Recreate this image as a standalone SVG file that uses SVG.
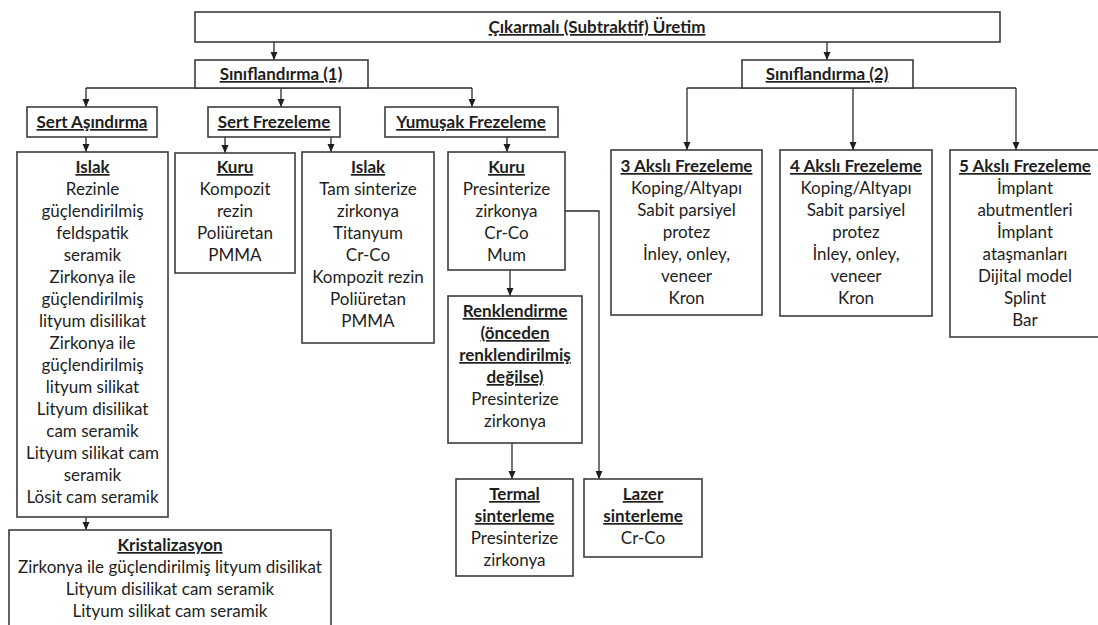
<svg xmlns="http://www.w3.org/2000/svg" width="1098" height="625" viewBox="0 0 1098 625">
  <style>
    .box { fill: #ffffff; stroke: #3c3c3c; stroke-width: 1.6; }
    .wire { fill: none; stroke: #2a2a2a; stroke-width: 1.3; }
    text { font-family: Lato, "Liberation Sans", sans-serif; font-size: 17px; fill: #1e1e1e; text-anchor: middle; }
    .h { font-weight: 700; text-decoration: underline; }
  </style>
  <defs>
    <marker id="arrow" viewBox="0 0 8 8" refX="8" refY="4" markerWidth="8" markerHeight="8" markerUnits="userSpaceOnUse" orient="auto">
      <path d="M0,0.5 L8,4 L0,7.5 Z" fill="#1e1e1e"/>
    </marker>
  </defs>
  <rect width="1098" height="625" fill="#ffffff"/>

  <!-- connectors -->
  <g id="connectors">
    <path class="wire" d="M274,42 V60" marker-end="url(#arrow)"/>
    <path class="wire" d="M827,42 V60" marker-end="url(#arrow)"/>
    <path class="wire" d="M86,88 H472"/>
    <path class="wire" d="M86,88 V107" marker-end="url(#arrow)"/>
    <path class="wire" d="M281,88 V107" marker-end="url(#arrow)"/>
    <path class="wire" d="M472,88 V107" marker-end="url(#arrow)"/>
    <path class="wire" d="M86,137 V152" marker-end="url(#arrow)"/>
    <path class="wire" d="M225,137 V153" marker-end="url(#arrow)"/>
    <path class="wire" d="M331,137 V152" marker-end="url(#arrow)"/>
    <path class="wire" d="M507,137 V152" marker-end="url(#arrow)"/>
    <path class="wire" d="M86,517 V530" marker-end="url(#arrow)"/>
    <path class="wire" d="M510,270 V296" marker-end="url(#arrow)"/>
    <path class="wire" d="M565,211 H599 V479" marker-end="url(#arrow)"/>
    <path class="wire" d="M512,443 V479" marker-end="url(#arrow)"/>
    <path class="wire" d="M687,88 H1016"/>
    <path class="wire" d="M687,88 V150" marker-end="url(#arrow)"/>
    <path class="wire" d="M853,88 V150" marker-end="url(#arrow)"/>
    <path class="wire" d="M1016,88 V150" marker-end="url(#arrow)"/>
  </g>

  <g id="uretim">
    <rect class="box" x="195" y="12" width="805" height="30"/>
    <text class="h" x="597" y="33">Çıkarmalı (Subtraktif) Üretim</text>
  </g>

  <g id="siniflandirma1">
    <rect class="box" x="195" y="60" width="173" height="28"/>
    <text class="h" x="281" y="80">Sınıflandırma (1)</text>
  </g>

  <g id="siniflandirma2">
    <rect class="box" x="742" y="60" width="171" height="28"/>
    <text class="h" x="827" y="80">Sınıflandırma (2)</text>
  </g>

  <g id="sert-asindirma">
    <rect class="box" x="27" y="107" width="130" height="30"/>
    <text class="h" x="92" y="128">Sert Aşındırma</text>
  </g>

  <g id="sert-frezeleme">
    <rect class="box" x="208" y="107" width="132" height="30"/>
    <text class="h" x="274" y="128">Sert Frezeleme</text>
  </g>

  <g id="yumusak-frezeleme">
    <rect class="box" x="385" y="107" width="173" height="30"/>
    <text class="h" x="471" y="128">Yumuşak Frezeleme</text>
  </g>

  <g id="islak-asindirma">
    <rect class="box" x="17" y="152" width="151" height="365"/>
    <text class="h" x="92.5" y="173">Islak</text>
    <text x="92.5" y="195">Rezinle</text>
    <text x="92.5" y="217">güçlendirilmiş</text>
    <text x="92.5" y="239">feldspatik</text>
    <text x="92.5" y="261">seramik</text>
    <text x="92.5" y="283">Zirkonya ile</text>
    <text x="92.5" y="305">güçlendirilmiş</text>
    <text x="92.5" y="327">lityum disilikat</text>
    <text x="92.5" y="349">Zirkonya ile</text>
    <text x="92.5" y="371">güçlendirilmiş</text>
    <text x="92.5" y="393">lityum silikat</text>
    <text x="92.5" y="415">Lityum disilikat</text>
    <text x="92.5" y="437">cam seramik</text>
    <text x="92.5" y="459">Lityum silikat cam</text>
    <text x="92.5" y="481">seramik</text>
    <text x="92.5" y="503">Lösit cam seramik</text>
  </g>

  <g id="kuru-sert">
    <rect class="box" x="175" y="153" width="120" height="120"/>
    <text class="h" x="235" y="173">Kuru</text>
    <text x="235" y="195">Kompozit</text>
    <text x="235" y="217">rezin</text>
    <text x="235" y="239">Poliüretan</text>
    <text x="235" y="261">PMMA</text>
  </g>

  <g id="islak-sert">
    <rect class="box" x="302" y="152" width="132" height="191"/>
    <text class="h" x="368" y="173">Islak</text>
    <text x="368" y="195">Tam sinterize</text>
    <text x="368" y="217">zirkonya</text>
    <text x="368" y="239">Titanyum</text>
    <text x="368" y="261">Cr-Co</text>
    <text x="368" y="283">Kompozit rezin</text>
    <text x="368" y="305">Poliüretan</text>
    <text x="368" y="327">PMMA</text>
  </g>

  <g id="kuru-yumusak">
    <rect class="box" x="448" y="152" width="117" height="118"/>
    <text class="h" x="506.5" y="173">Kuru</text>
    <text x="506.5" y="195">Presinterize</text>
    <text x="506.5" y="217">zirkonya</text>
    <text x="506.5" y="239">Cr-Co</text>
    <text x="506.5" y="261">Mum</text>
  </g>

  <g id="renklendirme">
    <rect class="box" x="448" y="296" width="134" height="147"/>
    <text class="h" x="515" y="317">Renklendirme</text>
    <text class="h" x="515" y="339">(önceden</text>
    <text class="h" x="515" y="361">renklendirilmiş</text>
    <text class="h" x="515" y="383">değilse)</text>
    <text x="515" y="405">Presinterize</text>
    <text x="515" y="427">zirkonya</text>
  </g>

  <g id="termal-sinterleme">
    <rect class="box" x="456" y="479" width="117" height="97"/>
    <text class="h" x="514.5" y="500">Termal</text>
    <text class="h" x="514.5" y="522">sinterleme</text>
    <text x="514.5" y="544">Presinterize</text>
    <text x="514.5" y="566">zirkonya</text>
  </g>

  <g id="lazer-sinterleme">
    <rect class="box" x="584" y="479" width="118" height="78"/>
    <text class="h" x="643" y="500">Lazer</text>
    <text class="h" x="643" y="522">sinterleme</text>
    <text x="643" y="544">Cr-Co</text>
  </g>

  <g id="kristalizasyon">
    <rect class="box" x="9" y="530" width="322" height="110"/>
    <text class="h" x="170" y="551">Kristalizasyon</text>
    <text x="170" y="573">Zirkonya ile güçlendirilmiş lityum disilikat</text>
    <text x="170" y="595">Lityum disilikat cam seramik</text>
    <text x="170" y="617">Lityum silikat cam seramik</text>
  </g>

  <g id="uc-aksli">
    <rect class="box" x="611" y="150" width="151" height="165"/>
    <text class="h" x="686.5" y="172">3 Akslı Frezeleme</text>
    <text x="686.5" y="194">Koping/Altyapı</text>
    <text x="686.5" y="216">Sabit parsiyel</text>
    <text x="686.5" y="238">protez</text>
    <text x="686.5" y="260">İnley, onley,</text>
    <text x="686.5" y="282">veneer</text>
    <text x="686.5" y="304">Kron</text>
  </g>

  <g id="dort-aksli">
    <rect class="box" x="780" y="150" width="152" height="166"/>
    <text class="h" x="856" y="172">4 Akslı Frezeleme</text>
    <text x="856" y="194">Koping/Altyapı</text>
    <text x="856" y="216">Sabit parsiyel</text>
    <text x="856" y="238">protez</text>
    <text x="856" y="260">İnley, onley,</text>
    <text x="856" y="282">veneer</text>
    <text x="856" y="304">Kron</text>
  </g>

  <g id="bes-aksli">
    <rect class="box" x="950" y="150" width="160" height="187"/>
    <text class="h" x="1025" y="172">5 Akslı Frezeleme</text>
    <text x="1025" y="194">İmplant</text>
    <text x="1025" y="216">abutmentleri</text>
    <text x="1025" y="238">İmplant</text>
    <text x="1025" y="260">ataşmanları</text>
    <text x="1025" y="282">Dijital model</text>
    <text x="1025" y="304">Splint</text>
    <text x="1025" y="326">Bar</text>
  </g>
</svg>
